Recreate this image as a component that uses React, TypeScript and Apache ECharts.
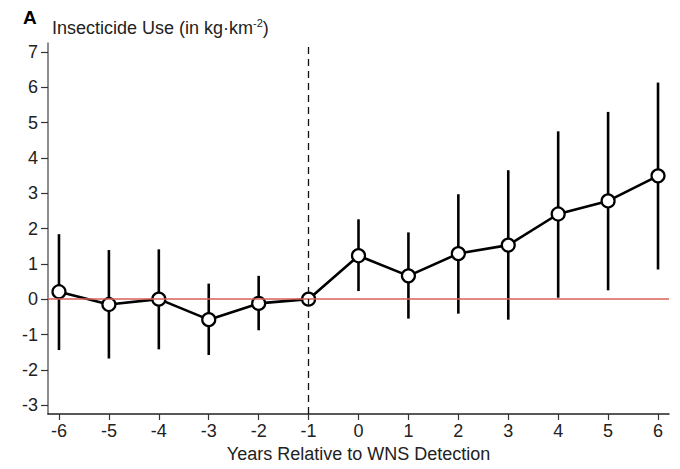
import React, { useEffect, useRef } from "react";
import * as echarts from "echarts";

const years = [-6, -5, -4, -3, -2, -1, 0, 1, 2, 3, 4, 5, 6];
const estimates = [0.21, -0.15, 0.0, -0.58, -0.12, 0, 1.23, 0.66, 1.29, 1.53, 2.41, 2.78, 3.49];
const ciLower = [-1.44, -1.68, -1.42, -1.58, -0.88, 0, 0.23, -0.55, -0.41, -0.58, 0.04, 0.25, 0.84];
const ciUpper = [1.84, 1.39, 1.41, 0.44, 0.66, 0, 2.26, 1.89, 2.97, 3.65, 4.75, 5.3, 6.13];
const yTicks = [-3, -2, -1, 0, 1, 2, 3, 4, 5, 6, 7];
const xTicks = years;

const FONT = "'Liberation Sans Narrow', 'Liberation Sans', Arial, sans-serif";

export default function App() {
  const ref = useRef<HTMLDivElement>(null);
  useEffect(() => {
    if (!ref.current) return;
    const chart = echarts.init(ref.current, null, { renderer: "svg" });
    const option: any = {
      animation: false,
      backgroundColor: "#fff",
      grid: { left: 48, right: 11, top: 43, bottom: 55 },
      xAxis: {
        type: "value",
        min: -6.22,
        max: 6.22,
        name: "Years Relative to WNS Detection",
        nameLocation: "middle",
        nameGap: 31,
        nameTextStyle: { fontFamily: FONT, fontSize: 18, color: "#222" },
        axisLine: { show: true, onZero: false, lineStyle: { color: "#222", width: 1.5 } },
        axisTick: { show: true, length: 6, customValues: xTicks, lineStyle: { color: "#333", width: 1.2 } },
        axisLabel: { customValues: xTicks, fontFamily: FONT, fontSize: 18, color: "#222", margin: 8 },
        splitLine: { show: false },
      },
      yAxis: {
        type: "value",
        min: -3.25,
        max: 7.25,
        axisLine: { show: true, onZero: false, lineStyle: { color: "#666", width: 1.5 } },
        axisTick: { show: true, length: 7, customValues: yTicks, lineStyle: { color: "#333", width: 1.2 } },
        axisLabel: { customValues: yTicks, fontFamily: FONT, fontSize: 18, color: "#222", margin: 10 },
        splitLine: { show: false },
      },
      graphic: [
        {
          type: "text",
          left: 23,
          top: 8,
          style: { text: "A", fontFamily: FONT, fontWeight: 900, fontSize: 19, fill: "#000" },
        },
        {
          type: "text",
          left: 52,
          top: 17,
          style: {
            text: "{a|Insecticide Use (in kg·km}{s|-2}{a|)}",
            rich: {
              a: { fontFamily: FONT, fontSize: 18, fill: "#222", verticalAlign: "bottom", lineHeight: 20 },
              s: { fontFamily: FONT, fontSize: 11, fill: "#222", verticalAlign: "top", lineHeight: 20, padding: [0, 0, 8, 0] },
            },
          },
        },
      ],
      series: [
        {
          type: "custom",
          z: 2,
          data: years.map((x, i) => [x, ciLower[i], ciUpper[i]]),
          renderItem: (params: any, api: any) => {
            const lo = api.coord([api.value(0), api.value(1)]);
            const hi = api.coord([api.value(0), api.value(2)]);
            return {
              type: "line",
              shape: { x1: lo[0], y1: lo[1], x2: hi[0], y2: hi[1] },
              style: { stroke: "#000", lineWidth: 2.6 },
            };
          },
          markLine: {
            silent: true,
            symbol: "none",
            label: { show: false },
            data: [
              { yAxis: 0, lineStyle: { color: "#d9605a", width: 1.5, type: "solid" } },
              { xAxis: -1, lineStyle: { color: "#111", width: 1.3, type: [7, 5] } },
            ],
          },
        },
        {
          type: "line",
          z: 3,
          data: years.map((x, i) => [x, estimates[i]]),
          lineStyle: { color: "#000", width: 2.6 },
          symbol: "circle",
          symbolSize: 13,
          itemStyle: { color: "#fff", borderColor: "#000", borderWidth: 2.2 },
        },
      ],
    };
    chart.setOption(option);
    return () => chart.dispose();
  }, []);
  return <div ref={ref} style={{ width: 680, height: 469, position: "absolute", left: 0, top: 0 }} />;
}
